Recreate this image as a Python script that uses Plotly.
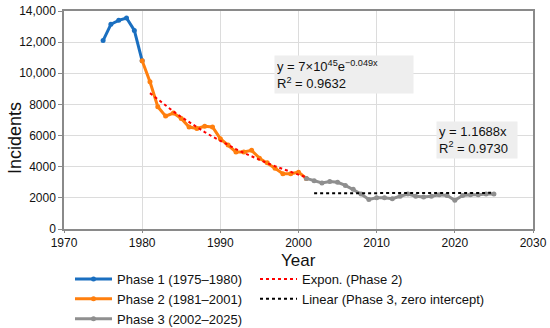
import numpy as np
import plotly.graph_objects as go

# ---- data ----
years_p1 = [1975, 1976, 1977, 1978, 1979, 1980]
vals_p1 = [12100, 13150, 13400, 13550, 12750, 10800]

years_p2 = [1980, 1981, 1982, 1983, 1984, 1985, 1986, 1987, 1988, 1989, 1990,
            1991, 1992, 1993, 1994, 1995, 1996, 1997, 1998, 1999, 2000, 2001]
vals_p2 = [10800, 9450, 7850, 7250, 7450, 7100, 6550, 6450, 6600, 6550, 5800,
           5400, 4950, 4950, 5050, 4550, 4250, 3900, 3550, 3550, 3650, 3250]

years_p3 = [2001, 2002, 2003, 2004, 2005, 2006, 2007, 2008, 2009, 2010, 2011, 2012,
            2013, 2014, 2015, 2016, 2017, 2018, 2019, 2020, 2021, 2022, 2023, 2024, 2025]
vals_p3 = [3250, 3100, 2950, 3050, 3000, 2800, 2550, 2250, 1900, 2000, 2000, 1950,
           2100, 2250, 2100, 2050, 2100, 2200, 2150, 1850, 2150, 2200, 2200, 2250, 2250]

y_ticks = [0, 2000, 4000, 6000, 8000, 10000, 12000, 14000]
y_ticktext = ["0", "2000", "4000", "6000", "8000", "10,000", "12,000", "14,000"]
x_ticks = [1970, 1980, 1990, 2000, 2010, 2020, 2030]

# ---- trendlines fitted from data ----
fx2 = np.array(years_p2[1:], dtype=float)
fy2 = np.array(vals_p2[1:], dtype=float)
b, a = np.polyfit(fx2, np.log(fy2), 1)
exp_y = np.exp(a + b * fx2)

fx3 = np.array(years_p3[1:], dtype=float)
fy3 = np.array(vals_p3[1:], dtype=float)
slope = (fx3 * fy3).sum() / (fx3 * fx3).sum()
lin_y = slope * fx3

BLUE = "#1a6fc0"
ORANGE = "#ff7f0e"
GRAY = "#8f8f8f"

fig = go.Figure()
fig.add_trace(go.Scatter(x=years_p1, y=vals_p1, mode="lines+markers", name="Phase 1 (1975–1980)",
                         line=dict(color=BLUE, width=3), marker=dict(size=5, color=BLUE),
                         legend="legend"))
fig.add_trace(go.Scatter(x=years_p2, y=vals_p2, mode="lines+markers", name="Phase 2 (1981–2001)",
                         line=dict(color=ORANGE, width=3), marker=dict(size=5, color=ORANGE),
                         legend="legend"))
fig.add_trace(go.Scatter(x=years_p3, y=vals_p3, mode="lines+markers", name="Phase 3 (2002–2025)",
                         line=dict(color=GRAY, width=3), marker=dict(size=5, color=GRAY),
                         legend="legend"))
fig.add_trace(go.Scatter(x=fx2, y=exp_y, mode="lines", name="Expon. (Phase 2)",
                         line=dict(color="red", width=2, dash="dot"), legend="legend2"))
fig.add_trace(go.Scatter(x=fx3, y=lin_y, mode="lines", name="Linear (Phase 3, zero intercept)",
                         line=dict(color="black", width=2, dash="dot"), legend="legend2"))

FONT = "Liberation Sans, Arial, sans-serif"
leg_common = dict(orientation="v", xanchor="left", yanchor="top", xref="container",
                  yref="container", font=dict(size=13, family=FONT, color="#111111"),
                  itemwidth=37, tracegroupgap=0, bgcolor="rgba(0,0,0,0)")

fig.update_layout(
    width=550, height=328,
    margin=dict(l=64, r=17, t=11, b=99, autoexpand=False),
    paper_bgcolor="white", plot_bgcolor="white",
    font=dict(family=FONT, color="#111111", size=12),
    showlegend=True,
    legend=dict(x=70 / 550, y=1 - 264 / 328, **leg_common),
    legend2=dict(x=255 / 550, y=1 - 264 / 328, **leg_common),
    annotations=[
        dict(x=1996.9, y=11150, xref="x", yref="y", xanchor="left", yanchor="top",
             text="y = 7×10<sup>45</sup>e<sup>−0.049x</sup><br>R<sup>2</sup> = 0.9632",
             showarrow=False, align="left", bgcolor="#eeeeee", borderpad=2,
             font=dict(size=13, family=FONT, color="#111111"), width=134),
        dict(x=2017.6, y=6950, xref="x", yref="y", xanchor="left", yanchor="top",
             text="y = 1.1688x<br>R<sup>2</sup> = 0.9730",
             showarrow=False, align="left", bgcolor="#eeeeee", borderpad=2,
             font=dict(size=13, family=FONT, color="#111111"), width=76),
        dict(xref="paper", x=(15 - 64) / 469, yref="paper", y=(229 - 138) / 218,
             showarrow=False, text="Incidents", textangle=-90,
             font=dict(size=18, family=FONT, color="#111111"),
             xanchor="center", yanchor="middle"),
        dict(xref="paper", x=(298.5 - 64) / 469, yref="paper", y=(229 - 260) / 218,
             showarrow=False, text="Year", font=dict(size=17, family=FONT, color="#111111"),
             xanchor="center", yanchor="middle"),
    ],
)

fig.update_xaxes(range=[1970, 2030], tickvals=x_ticks, showgrid=True, gridcolor="#dcdcdc",
                 gridwidth=1, showline=True, linecolor="#8a8a8a", linewidth=1.5, mirror=True,
                 ticks="outside", ticklen=2, tickcolor="#8a8a8a", zeroline=False,
                 tickfont=dict(size=12))
fig.update_yaxes(range=[0, 14000], tickvals=y_ticks, ticktext=y_ticktext, showgrid=True,
                 gridcolor="#dcdcdc", gridwidth=1, showline=True, linecolor="#8a8a8a",
                 linewidth=1.5, mirror=True, ticks="outside", ticklen=4, tickcolor="#8a8a8a",
                 zeroline=False, tickfont=dict(size=12))

fig.write_html("out.html", config={"displayModeBar": False},
               post_script="document.body.style.margin='0';")
